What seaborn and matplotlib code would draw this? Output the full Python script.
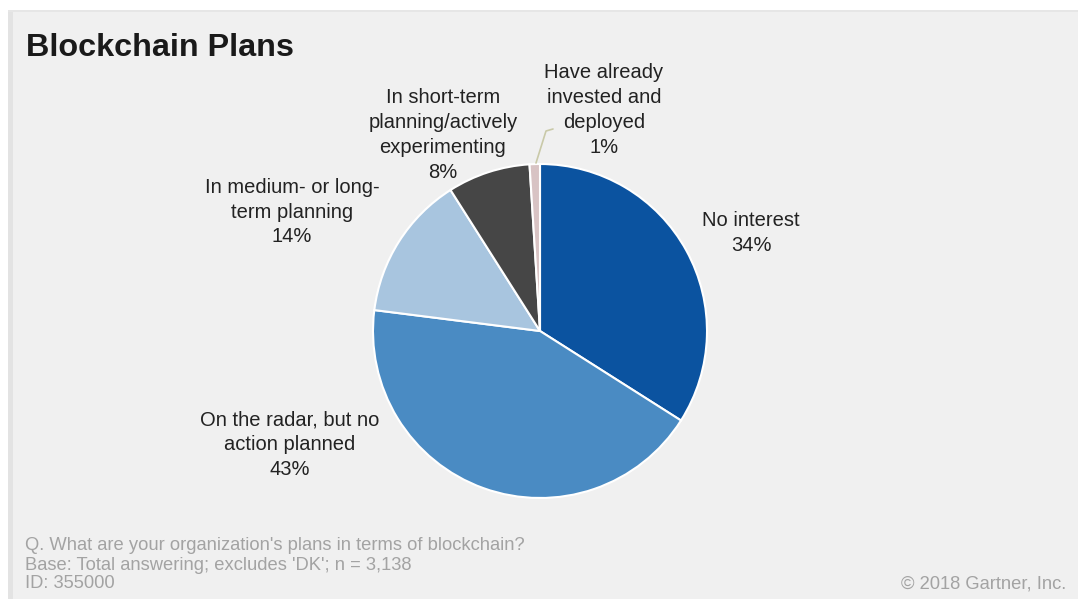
import matplotlib
matplotlib.use("Agg")
import matplotlib.pyplot as plt
from matplotlib.patches import Rectangle
import seaborn as sns

# data
categories = [
    "No interest",
    "On the radar, but no\naction planned",
    "In medium- or long-\nterm planning",
    "In short-term\nplanning/actively\nexperimenting",
    "Have already\ninvested and\ndeployed",
]
shares = [34, 43, 14, 8, 1]
colors = ["#0b53a0", "#4a8bc3", "#a8c5df", "#464646", "#d8c3c4"]

title = "Blockchain Plans"
footer = ["Q. What are your organization's plans in terms of blockchain?",
          "Base: Total answering; excludes 'DK'; n = 3,138",
          "ID: 355000"]
copyright_txt = "\u00a9 2018 Gartner, Inc."

# label anchor points in pixels (x, y from top)
label_pos = [(751, 233), (290, 445), (292, 212), (443, 135), (604, 110)]

W, H = 1078, 599

sns.set_style("white")
plt.rcParams["font.family"] = ["Liberation Sans", "DejaVu Sans"]

fig = plt.figure(figsize=(W / 100, H / 100), dpi=100)
fig.patch.set_facecolor("white")
ax = fig.add_axes([0, 0, 1, 1])

# gray card behind the chart
ax.add_patch(Rectangle((8, 0), W - 8, H - 10, facecolor="#f0f0f0", edgecolor="none", zorder=0))
ax.add_patch(Rectangle((8, 0), 5, H - 10, facecolor="#e3e3e3", edgecolor="none", zorder=0))
ax.add_patch(Rectangle((8, H - 12), W - 8, 2, facecolor="#e6e6e6", edgecolor="none", zorder=0))

cx, cy, r = 540, H - 331, 167
ax.pie(shares, colors=colors, startangle=90, counterclock=False,
       center=(cx, cy), radius=r,
       wedgeprops=dict(edgecolor="white", linewidth=1.5))

for lab, val, (x, y) in zip(categories, shares, label_pos):
    ax.text(x, H - y, f"{lab}\n{val}%", ha="center", va="center",
            fontsize=14.5, color="#222222", linespacing=1.38, zorder=5)

# leader line for the 1% slice
ax.plot([536, 546, 553], [H - 163, H - 131, H - 129], color="#c9c9a8", lw=1.2, zorder=4)

ax.text(26, H - 48, title, fontsize=23.3, fontweight="bold", color="#1a1a1a",
        ha="left", va="center")

for i, line in enumerate(footer):
    ax.text(25, H - (546 + 19 * i), line, fontsize=13.2, color="#a3a3a3",
            ha="left", va="center")
ax.text(1066, H - 584, copyright_txt, fontsize=13.2, color="#a3a3a3",
        ha="right", va="center")

ax.set_xlim(0, W)
ax.set_ylim(0, H)
ax.set_aspect("auto")
ax.axis("off")

fig.savefig("out.png", dpi=100, facecolor=fig.get_facecolor())
